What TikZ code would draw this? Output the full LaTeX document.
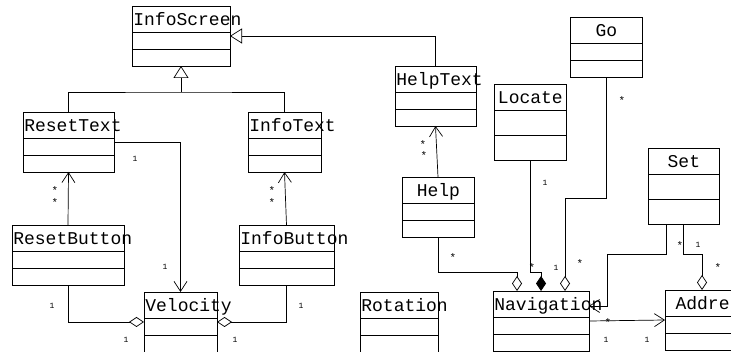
\documentclass[tikz,border=0pt]{standalone}
\usepackage{fontspec}
\setmonofont{Liberation Mono}
\usetikzlibrary{arrows.meta,calc}

% class box: name, x, y (top left), width, compartment height, title
\newcommand{\umlclass}[6]{%
  \node[classbox, minimum width=#4pt, minimum height={26pt+2*#5pt}, anchor=north west] (#1) at (#2,#3) {};
  \draw ([yshift=-26pt]#1.north west) -- ([yshift=-26pt]#1.north east);
  \draw ([yshift={-26pt-#5pt}]#1.north west) -- ([yshift={-26pt-#5pt}]#1.north east);
  \node[classname] (#1-title) at ([xshift=1pt,yshift=-19.5pt]#1.north west)
    {\hbox to \dimexpr#4pt-2pt\relax{\hfil#6\hfil}};
}
% "many" mark, a bit larger than the digits
\newcommand{\mstar}{{\fontsize{11}{11}\selectfont\raisebox{-1.5pt}{*}}}

\begin{document}
\begin{tikzpicture}[x=1pt, y=-1pt, line width=0.7pt,
  classbox/.style={draw, inner sep=0pt, outer sep=0pt},
  classname/.style={anchor=base west, inner sep=0pt, font=\ttfamily\fontsize{18}{20}\selectfont},
  mult/.style={inner sep=0pt, font=\ttfamily\fontsize{8}{9}\selectfont},
  inherit/.style={-{Triangle[open, length=12pt, width=15pt]}},
  nav/.style={-{Straight Barb[length=10pt, width=13pt]}},
  agg/.style={{Diamond[open, length=15pt, width=10pt]}-},
  comp/.style={{Diamond[length=15pt, width=10pt]}-}]
\path[use as bounding box] (0,0) rectangle (731,352);
\clip (0,0) rectangle (731,352);

% classes
\umlclass{infoscreen}{132}{6}{98}{17}{InfoScreen}
\umlclass{resettext}{23}{112}{91}{17}{ResetText}
\umlclass{infotext}{248}{112}{73}{17}{InfoText}
\umlclass{resetbutton}{12}{225}{112}{17}{ResetButton}
\umlclass{infobutton}{239}{225}{95}{17}{InfoButton}
\umlclass{velocity}{144}{292}{73}{17}{Velocity}
\umlclass{helptext}{395}{66}{81}{17}{HelpText}
\umlclass{help}{402}{177}{72}{17}{Help}
\umlclass{locate}{494}{84}{72}{25}{Locate}
\umlclass{go}{570}{17}{72}{17}{Go}
\umlclass{set}{648}{148}{71}{25}{Set}
\umlclass{rotation}{360}{292}{78}{17}{Rotation}
\umlclass{navigation}{493}{291}{96}{17}{Navigation}
\umlclass{address}{665}{290}{96}{17}{Address}

% generalisations
\coordinate (gen) at (181,92);
\draw (resettext.north) |- (gen) -| (infotext.north);
\draw[inherit] (gen) -- (infoscreen.south);
\draw[inherit] (helptext.north) |- (infoscreen.east);

% associations
\draw[nav] (resetbutton.north) -- (resettext.south);
\draw[nav] (infobutton.north) -- (infotext.south);
\draw[nav] (resettext.east) -| (velocity.north);
\draw[nav] (help.north) -- (helptext.south);
\draw[nav] ([xshift=-17pt]set.south) |- ++(-59,30) |- ([yshift=15pt]navigation.east);
\draw[nav] (navigation.east) -- (address.west);

% aggregations and composition
\draw[agg] (velocity.west) -| (resetbutton.south);
\draw[agg] (velocity.east) -| (infobutton.south);
\draw[agg] ([xshift=-24pt]navigation.north) -- ++(0,-19) -| (help.south);
\draw[comp] (navigation.north) -- ++(0,-19) -| (locate.south);
\draw[agg] ([xshift=24pt]navigation.north) -- ++(0,-93) -| (go.south);
\draw[agg] ([xshift=-11pt]address.north) -- ++(0,-36) -| (set.south);

% multiplicities
\foreach \x/\y/\t [count=\i] in {55/191/\mstar, 55/203/\mstar, 272/191/\mstar, 272/203/\mstar,
    135/159/1, 165/267/1, 52/306/1, 126/340/1, 301/306/1, 235/340/1,
    423/145/\mstar, 424/156/\mstar, 453/258/\mstar, 545/183/1, 532/268/\mstar, 622/101/\mstar,
    556/268/1, 580/264/\mstar, 680/246/\mstar, 698/245/1, 718/268/\mstar,
    608/323/\mstar, 606/340/1, 647/340/1}
  \node[mult] (m\i) at (\x,\y) {\t};
\end{tikzpicture}
\end{document}
